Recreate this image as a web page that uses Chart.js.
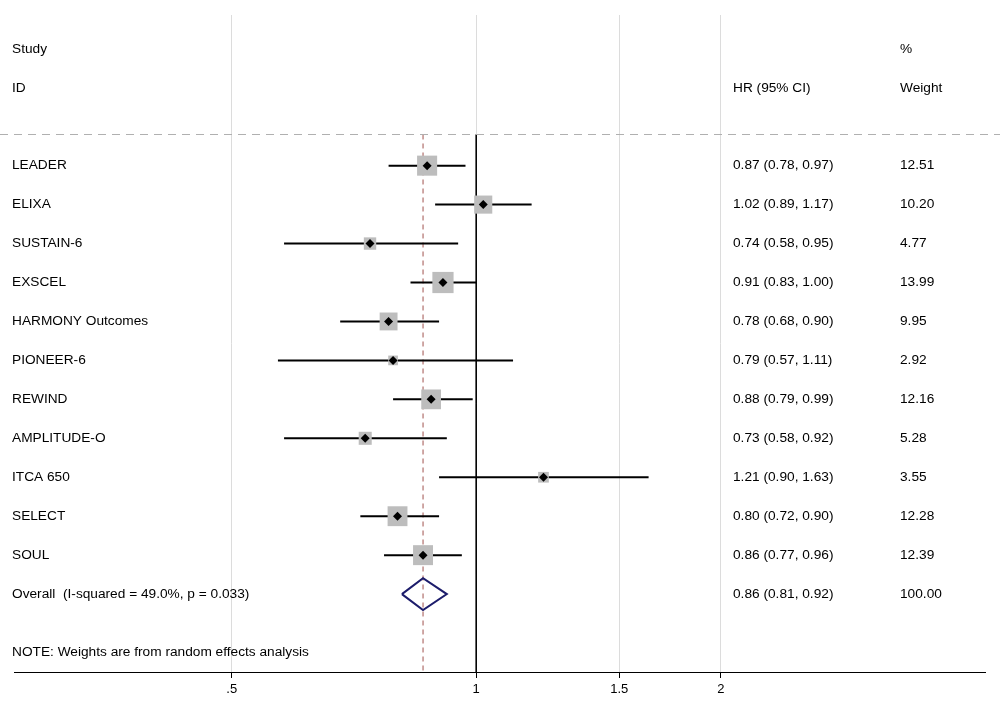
<!DOCTYPE html>
<html>
<head>
<meta charset="utf-8">
<script src="https://cdn.jsdelivr.net/npm/chart.js@4"></script>
<style>
  html, body { margin: 0; padding: 0; background: #fff; }
  #wrap { width: 1000px; height: 704px; }
</style>
</head>
<body>
<div id="wrap"><canvas id="cvsForest"></canvas></div>
<script>
// ! Data
const studies = ['LEADER', 'ELIXA', 'SUSTAIN-6', 'EXSCEL', 'HARMONY Outcomes', 'PIONEER-6',
  'REWIND', 'AMPLITUDE-O', 'ITCA 650', 'SELECT', 'SOUL'];
const hr = [0.87, 1.02, 0.74, 0.91, 0.78, 0.79, 0.88, 0.73, 1.21, 0.80, 0.86];
const lower = [0.78, 0.89, 0.58, 0.83, 0.68, 0.57, 0.79, 0.58, 0.90, 0.72, 0.77];
const upper = [0.97, 1.17, 0.95, 1.00, 0.90, 1.11, 0.99, 0.92, 1.63, 0.90, 0.96];
const weights = [12.51, 10.20, 4.77, 13.99, 9.95, 2.92, 12.16, 5.28, 3.55, 12.28, 12.39];
const overall = { hr: 0.86, lo: 0.81, hi: 0.92, weight: 100.00, label: 'Overall  (I-squared = 49.0%, p = 0.033)' };
const xTicks = [0.5, 1, 1.5, 2];
const xTickLabels = ['.5', '1', '1.5', '2'];

const fmt = v => v.toFixed(2);
const overallRow = studies.length;
const FONT = '"Liberation Sans", Arial, sans-serif';

const datasets = [];
// CI lines
studies.forEach((s, i) => {
  datasets.push({
    type: 'line', data: [{ x: lower[i], y: i }, { x: upper[i], y: i }],
    borderColor: '#000', borderWidth: 2, pointRadius: 0, order: 3
  });
});
// weight boxes
datasets.push({
  type: 'scatter',
  data: hr.map((v, i) => ({ x: v, y: i })),
  pointStyle: 'rect',
  pointRadius: weights.map(w => 15 * Math.sqrt(w / 14)),
  backgroundColor: '#bdbdbd', borderWidth: 0, order: 2
});
// point estimates
datasets.push({
  type: 'scatter',
  data: hr.map((v, i) => ({ x: v, y: i })),
  pointStyle: 'rectRot', pointRadius: 4.5,
  backgroundColor: '#000', borderWidth: 0, order: 1
});
// null line
datasets.push({
  type: 'line', data: [{ x: 1, y: -0.8 }, { x: 1, y: 13.1 }],
  borderColor: '#000', borderWidth: 1, pointRadius: 0, order: 4
});
// overall effect line
datasets.push({
  type: 'line', data: [{ x: overall.hr, y: -0.8 }, { x: overall.hr, y: 13.1 }],
  borderColor: '#a0524d', borderWidth: 1, borderDash: [5, 4], pointRadius: 0, order: 4
});
// overall diamond
datasets.push({
  type: 'line',
  data: [{ x: overall.lo, y: overallRow }, { x: overall.hr, y: overallRow - 0.41 },
         { x: overall.hi, y: overallRow }, { x: overall.hr, y: overallRow + 0.41 },
         { x: overall.lo, y: overallRow }],
  borderColor: '#1c1c6b', borderWidth: 2, pointRadius: 0, tension: 0, order: 1
});

const textPlugin = {
  id: 'forestText',
  afterDraw(chart) {
    const { ctx, scales: { y } } = chart;
    ctx.save();
    ctx.fillStyle = '#000';
    ctx.font = '13.7px ' + FONT;
    ctx.textBaseline = 'middle';
    const put = (t, x, row) => ctx.fillText(t, x, y.getPixelForValue(row));
    put('Study', 12, -3); put('%', 900, -3);
    put('ID', 12, -2); put('HR (95% CI)', 733, -2); put('Weight', 900, -2);
    studies.forEach((s, i) => {
      put(s, 12, i);
      put(`${fmt(hr[i])} (${fmt(lower[i])}, ${fmt(upper[i])})`, 733, i);
      put(fmt(weights[i]), 900, i);
    });
    put(overall.label, 12, overallRow);
    put(`${fmt(overall.hr)} (${fmt(overall.lo)}, ${fmt(overall.hi)})`, 733, overallRow);
    put(fmt(overall.weight), 900, overallRow);
    put('NOTE: Weights are from random effects analysis', 12, 12.5);
    // header separator
    const hy = Math.round(y.getPixelForValue(-0.8)) + 0.5;
    ctx.strokeStyle = '#b0b0b0';
    ctx.lineWidth = 1;
    ctx.setLineDash([8, 6]);
    ctx.beginPath(); ctx.moveTo(0, hy); ctx.lineTo(1000, hy); ctx.stroke();
    ctx.restore();
  }
};

new Chart(document.getElementById('cvsForest'), {
  type: 'scatter',
  data: { datasets },
  options: {
    responsive: true, maintainAspectRatio: false, animation: false,
    layout: { padding: 0 },
    plugins: { legend: { display: false }, tooltip: { enabled: false } },
    scales: {
      x: {
        type: 'logarithmic', min: 0.2705, max: 4.23,
        afterBuildTicks: scale => { scale.ticks = xTicks.map(v => ({ value: v })); },
        afterFit: scale => { scale.height = 32; },
        ticks: {
          color: '#000', font: { size: 13, family: FONT },
          autoSkip: false, maxRotation: 0, padding: 4,
          callback: (v) => xTickLabels[xTicks.indexOf(v)] ?? ''
        },
        grid: { color: '#dcdcdc', drawTicks: true, tickLength: 6, tickColor: '#000' },
        border: { display: true, color: '#000', width: 1 }
      },
      y: {
        type: 'linear', min: -3.868, max: 13.0, reverse: true, display: false
      }
    }
  },
  plugins: [textPlugin]
});
</script>
</body>
</html>
